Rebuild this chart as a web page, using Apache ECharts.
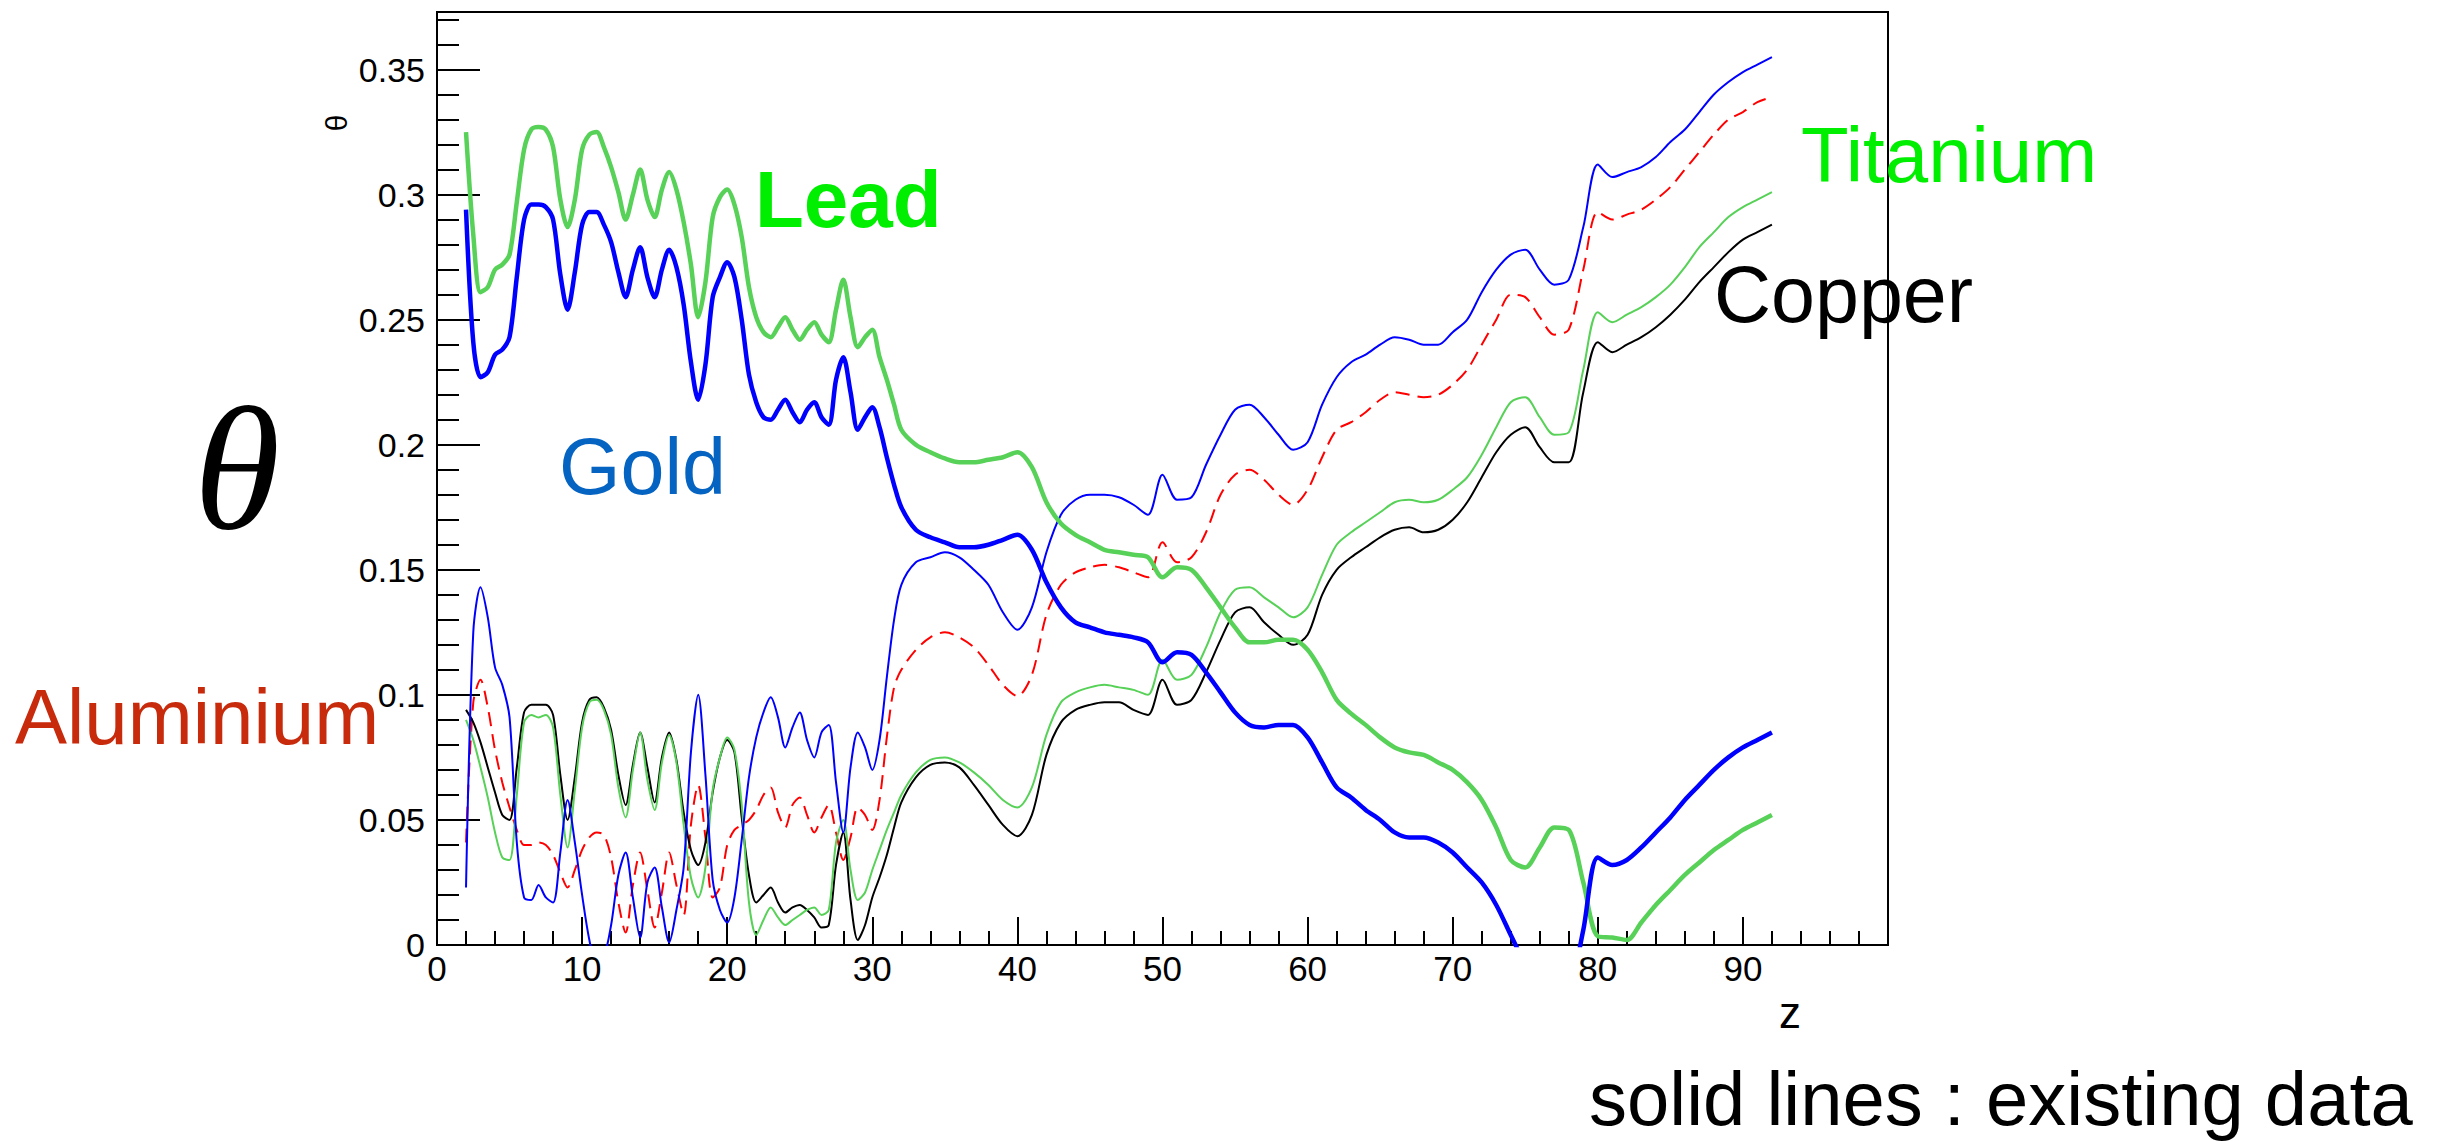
<!DOCTYPE html>
<html>
<head>
<meta charset="utf-8">
<script src="https://cdn.jsdelivr.net/npm/echarts@6/dist/echarts.min.js"></script>
<style>
html,body{margin:0;padding:0;background:#fff;}
#chart{width:2451px;height:1141px;}
</style>
</head>
<body>
<div id="chart"></div>
<script>
// z grid: half-unit steps up to 32, unit steps afterwards
const zValues = [2,2.5,3,3.5,4,4.5,5,5.5,6,6.5,7,7.5,8,8.5,9,9.5,10,10.5,11,11.5,12,12.5,13,13.5,14,14.5,15,15.5,16,16.5,17,17.5,18,18.5,19,19.5,20,20.5,21,21.5,22,22.5,23,23.5,24,24.5,25,25.5,26,26.5,27,27.5,28,28.5,29,29.5,30,30.5,31,31.5,32,
33,34,35,36,37,38,39,40,41,42,43,44,45,46,47,48,49,50,51,52,53,54,55,56,57,58,59,60,61,62,63,64,65,66,67,68,69,70,71,72,73,74,75,76,77,78,79,80,81,82,83,84,85,86,87,88,89,90,91,92];

const leadTheta = [0.325,0.284,0.261,0.263,0.270,0.272,0.276,0.297,0.318,0.326,0.327,0.326,0.319,0.298,0.287,0.298,0.318,0.324,0.325,0.319,0.311,0.301,0.290,0.300,0.310,0.298,0.291,0.302,0.309,0.302,0.289,0.272,0.251,0.265,0.291,0.299,0.302,0.296,0.283,0.263,0.251,0.245,0.243,0.247,0.251,0.246,0.242,0.246,0.249,0.244,0.241,0.254,0.266,0.251,0.239,0.243,0.246,0.235,0.226,0.216,0.206,
0.200,0.197,0.1945,0.193,0.193,0.194,0.195,0.197,0.191,0.177,0.1685,0.164,0.161,0.158,0.157,0.156,0.155,0.147,0.151,0.150,0.143,0.135,0.127,0.121,0.121,0.122,0.122,0.118,0.109,0.098,0.0925,0.088,0.083,0.079,0.077,0.076,0.073,0.070,0.065,0.058,0.047,0.034,0.031,0.039,0.047,0.046,0.025,0.0035,0.003,0.002,0.009,0.016,0.022,0.028,0.033,0.038,0.042,0.046,0.049,0.052];

const goldTheta = [0.294,0.241,0.227,0.229,0.236,0.238,0.243,0.267,0.290,0.296,0.296,0.295,0.290,0.268,0.254,0.269,0.288,0.293,0.293,0.288,0.281,0.269,0.259,0.270,0.279,0.267,0.259,0.270,0.278,0.271,0.256,0.233,0.218,0.232,0.259,0.267,0.273,0.267,0.250,0.228,0.217,0.211,0.210,0.214,0.218,0.213,0.209,0.214,0.217,0.211,0.208,0.226,0.235,0.221,0.206,0.211,0.215,0.207,0.195,0.184,0.175,
0.166,0.163,0.161,0.159,0.159,0.160,0.162,0.164,0.158,0.145,0.135,0.129,0.127,0.125,0.124,0.123,0.121,0.113,0.117,0.116,0.109,0.101,0.093,0.088,0.087,0.088,0.088,0.083,0.073,0.063,0.059,0.054,0.050,0.045,0.043,0.043,0.041,0.037,0.031,0.025,0.016,0.004,-0.008,-0.020,-0.028,-0.020,0.006,0.035,0.032,0.034,0.039,0.045,0.051,0.058,0.064,0.070,0.075,0.079,0.082,0.085];

const thinBlueTheta = [0.023,0.125,0.143,0.131,0.111,0.104,0.091,0.041,0.019,0.018,0.024,0.019,0.017,0.037,0.058,0.041,0.020,0.002,-0.008,-0.005,0.008,0.028,0.037,0.019,0.003,0.025,0.031,0.015,0.001,0.014,0.031,0.077,0.100,0.068,0.026,0.014,0.009,0.019,0.042,0.067,0.083,0.093,0.099,0.091,0.079,0.087,0.093,0.082,0.075,0.085,0.088,0.065,0.045,0.071,0.085,0.079,0.070,0.082,0.107,0.130,0.144,
0.153,0.155,0.157,0.155,0.150,0.144,0.133,0.126,0.135,0.157,0.172,0.178,0.180,0.180,0.179,0.176,0.172,0.188,0.178,0.179,0.192,0.204,0.214,0.216,0.211,0.204,0.198,0.201,0.216,0.227,0.233,0.236,0.240,0.243,0.242,0.240,0.240,0.245,0.250,0.261,0.270,0.276,0.278,0.270,0.264,0.266,0.287,0.312,0.307,0.309,0.311,0.315,0.321,0.326,0.333,0.340,0.345,0.349,0.352,0.355];

const aluminiumTheta = [0.041,0.097,0.106,0.095,0.078,0.065,0.055,0.046,0.040,0.040,0.041,0.040,0.036,0.029,0.023,0.030,0.038,0.043,0.045,0.044,0.035,0.017,0.005,0.024,0.037,0.022,0.007,0.021,0.037,0.024,0.012,0.048,0.064,0.043,0.019,0.023,0.040,0.046,0.048,0.050,0.054,0.060,0.063,0.053,0.047,0.056,0.059,0.052,0.045,0.051,0.056,0.045,0.034,0.043,0.055,0.052,0.046,0.058,0.083,0.103,0.110,
0.118,0.123,0.125,0.123,0.119,0.112,0.104,0.0995,0.108,0.132,0.144,0.149,0.151,0.152,0.151,0.149,0.147,0.161,0.153,0.155,0.165,0.180,0.188,0.190,0.186,0.180,0.176,0.182,0.195,0.206,0.209,0.213,0.218,0.221,0.220,0.219,0.220,0.224,0.230,0.240,0.250,0.260,0.259,0.251,0.244,0.246,0.270,0.293,0.290,0.292,0.294,0.298,0.303,0.310,0.317,0.324,0.330,0.333,0.337,0.339];

const copperTheta = [0.094,0.089,0.081,0.071,0.061,0.052,0.050,0.071,0.093,0.096,0.096,0.096,0.092,0.068,0.050,0.067,0.089,0.098,0.099,0.095,0.086,0.068,0.056,0.072,0.085,0.071,0.057,0.075,0.085,0.074,0.053,0.038,0.032,0.041,0.061,0.075,0.082,0.077,0.051,0.028,0.017,0.020,0.023,0.017,0.013,0.015,0.016,0.014,0.011,0.007,0.008,0.032,0.045,0.018,0.002,0.008,0.019,0.027,0.036,0.047,0.057,
0.067,0.072,0.073,0.071,0.064,0.056,0.048,0.0435,0.052,0.076,0.089,0.094,0.096,0.097,0.097,0.094,0.092,0.106,0.096,0.098,0.109,0.122,0.133,0.135,0.129,0.124,0.120,0.124,0.140,0.150,0.155,0.159,0.163,0.166,0.167,0.165,0.166,0.170,0.177,0.187,0.197,0.204,0.207,0.199,0.193,0.193,0.221,0.241,0.237,0.240,0.243,0.247,0.252,0.258,0.265,0.271,0.277,0.282,0.285,0.288];

const titaniumTheta = [0.090,0.082,0.071,0.059,0.045,0.035,0.034,0.060,0.089,0.092,0.091,0.092,0.087,0.060,0.039,0.062,0.087,0.097,0.098,0.094,0.084,0.063,0.051,0.070,0.085,0.066,0.054,0.073,0.084,0.073,0.048,0.027,0.019,0.031,0.062,0.075,0.083,0.078,0.056,0.017,0.004,0.010,0.015,0.011,0.008,0.010,0.012,0.014,0.015,0.012,0.014,0.041,0.050,0.030,0.018,0.021,0.030,0.038,0.046,0.053,0.060,
0.069,0.074,0.075,0.073,0.069,0.064,0.058,0.055,0.063,0.084,0.097,0.101,0.103,0.104,0.103,0.102,0.100,0.114,0.106,0.108,0.119,0.133,0.142,0.143,0.139,0.135,0.131,0.135,0.148,0.160,0.165,0.169,0.173,0.177,0.178,0.177,0.178,0.182,0.187,0.196,0.207,0.217,0.219,0.211,0.204,0.205,0.230,0.253,0.249,0.252,0.255,0.259,0.264,0.271,0.279,0.285,0.291,0.295,0.298,0.301];

const xTickLabels = ['0','10','20','30','40','50','60','70','80','90'];
const yTickLabels = ['0','0.05','0.1','0.15','0.2','0.25','0.3','0.35'];

const FONT = '"Liberation Sans", Arial, Helvetica, sans-serif';
const GREEN_LINE = '#57d157';

function pairs(vals) { return zValues.map((z, i) => [z, vals[i]]); }
function line(name, vals, color, width, dash) {
  return {
    name: name, type: 'line', data: pairs(vals), showSymbol: false, symbol: 'none',
    smooth: 0.3, clip: true, animation: false,
    lineStyle: { color: color, width: width, type: dash || 'solid' },
    itemStyle: { color: color }
  };
}

const chart = echarts.init(document.getElementById('chart'), null, { renderer: 'svg', width: 2451, height: 1141 });

const tickStyle = { color: '#000', width: 2 };

chart.setOption({
  animation: false,
  backgroundColor: '#ffffff',
  grid: { left: 437, top: 12, width: 1451, height: 933, show: true, borderColor: '#000', borderWidth: 2, backgroundColor: 'transparent' },
  xAxis: {
    type: 'value', min: 0, max: 100, interval: 10,
    axisLine: { show: true, onZero: false, lineStyle: tickStyle },
    axisTick: { show: true, inside: true, length: 28, lineStyle: tickStyle },
    minorTick: { show: true, splitNumber: 5, length: 14, lineStyle: tickStyle },
    splitLine: { show: false },
    axisLabel: {
      show: true, showMaxLabel: false, fontSize: 35, color: '#000', fontFamily: FONT, margin: 6,
      formatter: v => { const i = Math.round(v / 10); return xTickLabels[i] !== undefined ? xTickLabels[i] : ''; }
    }
  },
  yAxis: [
    {
      type: 'value', min: 0, max: 0.373, interval: 0.05,
      axisLine: { show: true, onZero: false, lineStyle: tickStyle },
      axisTick: { show: true, inside: true, length: 43, lineStyle: tickStyle },
      splitLine: { show: false },
      axisLabel: {
        show: true, showMaxLabel: false, fontSize: 34, color: '#000', fontFamily: FONT, margin: 12,
        formatter: v => { const i = Math.round(v / 0.05); return (Math.abs(v - i * 0.05) < 1e-6 && yTickLabels[i] !== undefined) ? yTickLabels[i] : ''; }
      }
    },
    {
      type: 'value', min: 0, max: 0.373, interval: 0.01, position: 'left',
      axisLine: { show: false },
      axisTick: { show: true, inside: true, length: 22, lineStyle: tickStyle },
      splitLine: { show: false },
      axisLabel: { show: false }
    }
  ],
  graphic: [
    { type: 'text', x: 336, y: 123, rotation: Math.PI / 2, style: { text: 'θ', font: '30px ' + FONT, fill: '#000', align: 'center', verticalAlign: 'middle' } },
    { type: 'text', x: 1790, y: 1012, style: { text: 'z', font: '44px ' + FONT, fill: '#000', align: 'center', verticalAlign: 'middle' } },
    { type: 'text', x: 237, y: 468, style: { text: 'θ', font: 'italic 176px "Liberation Serif", "DejaVu Serif", serif', fill: '#000', align: 'center', verticalAlign: 'middle' } },
    { type: 'text', x: 755, y: 199, style: { text: 'Lead', font: 'bold 80px ' + FONT, fill: '#00ee00', align: 'left', verticalAlign: 'middle' } },
    { type: 'text', x: 559, y: 466, style: { text: 'Gold', font: '79px ' + FONT, fill: '#0563c1', align: 'left', verticalAlign: 'middle' } },
    { type: 'text', x: 15, y: 717, style: { text: 'Aluminium', font: '78px ' + FONT, fill: '#c82a0c', align: 'left', verticalAlign: 'middle' } },
    { type: 'text', x: 1801, y: 155, style: { text: 'Titanium', font: '78px ' + FONT, fill: '#00ee00', align: 'left', verticalAlign: 'middle' } },
    { type: 'text', x: 1714, y: 294, style: { text: 'Copper', font: '79px ' + FONT, fill: '#000', align: 'left', verticalAlign: 'middle' } },
    { type: 'text', x: 1589, y: 1098, style: { text: 'solid lines : existing data', font: '76px ' + FONT, fill: '#000', align: 'left', verticalAlign: 'middle' } }
  ],
  series: [
    line('Aluminium', aluminiumTheta, '#ff0000', 2, [14, 8]),
    line('Copper', copperTheta, '#000000', 2),
    line('Titanium', titaniumTheta, GREEN_LINE, 2),
    line('Thin blue', thinBlueTheta, '#0000ff', 2),
    line('Lead', leadTheta, GREEN_LINE, 4.5),
    line('Gold', goldTheta, '#0000ff', 4.5)
  ]
});
</script>
</body>
</html>
